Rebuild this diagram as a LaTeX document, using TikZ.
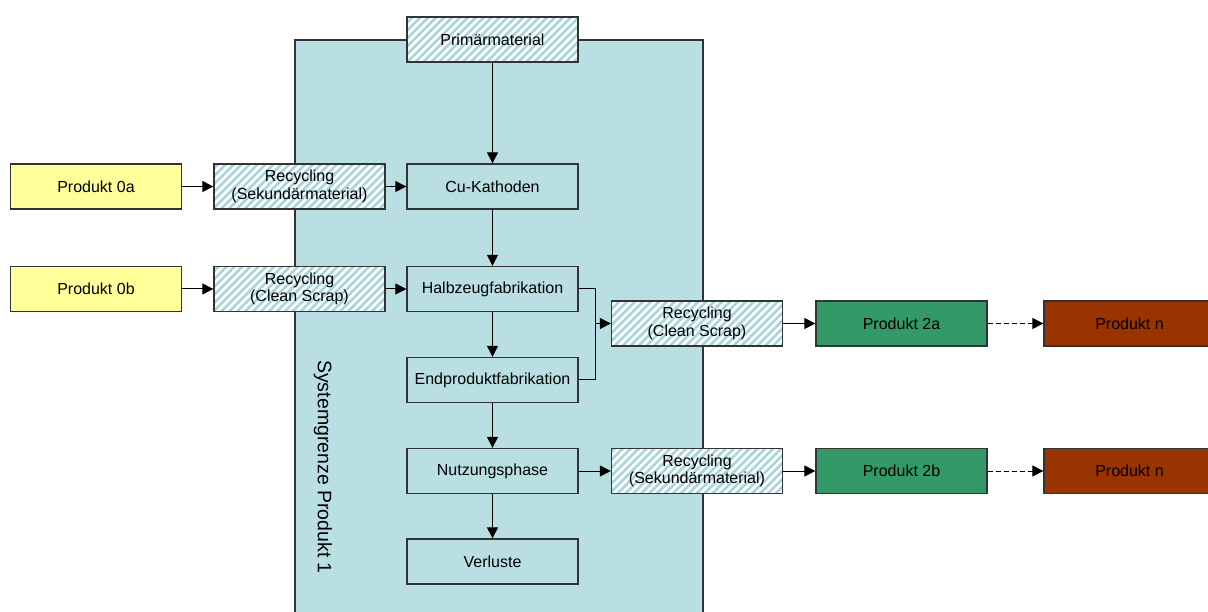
\documentclass[tikz,border=0pt]{standalone}
\usepackage{fontspec}
\setmainfont{Liberation Sans}
\usetikzlibrary{arrows.meta,patterns.meta}
\definecolor{sysfill}{HTML}{B9DFE2}
\definecolor{hatch}{HTML}{A6D5DA}
\definecolor{prodyellow}{HTML}{FFFF99}
\definecolor{prodgreen}{HTML}{339966}
\definecolor{prodbrown}{HTML}{993300}
\definecolor{edge}{HTML}{333333}
\tikzset{
  box/.style={draw=edge, line width=1.3pt, rectangle, minimum width=171pt, minimum height=45pt, inner sep=0pt, align=center, font=\fontsize{16}{17.5}\selectfont},
  proc/.style={box, fill=sysfill},
  recyc/.style={box, preaction={fill=white}, preaction={pattern={Lines[angle=45,distance=5.6pt,line width=2.6pt]}, pattern color=hatch}},
  yel/.style={box, fill=prodyellow},
  grn/.style={box, fill=prodgreen},
  brn/.style={box, fill=prodbrown},
  arr/.style={draw=black, line width=1pt, -{Triangle[length=11pt,width=11pt]}},
  dasharr/.style={arr, dash pattern=on 5pt off 3pt},
  lin/.style={draw=black, line width=1pt}
}
\begin{document}
\begin{tikzpicture}[x=1pt,y=-1pt]
\useasboundingbox (0,0) rectangle (1208,612);
\begin{scope}
\clip (0,0) rectangle (1208,612);
% system boundary
\draw[draw=edge, line width=1.3pt, fill=sysfill] (295,40) rectangle (703,630);
\node[rotate=-90, font=\fontsize{19.5}{21}\selectfont] (sysl) at (323,467) {Systemgrenze Produkt 1};
% main column
\node[recyc] (prim) at (492.5,39.5) {Primärmaterial};
\node[proc] (cu) at (492.5,186.5) {Cu-Kathoden};
\node[proc] (halb) at (492.5,289) {Halbzeugfabrikation};
\node[proc] (endp) at (492.5,380) {Endproduktfabrikation};
\node[proc] (nutz) at (492.5,471) {Nutzungsphase};
\node[proc] (verl) at (492.5,561.5) {Verluste};
% left side
\node[yel] (p0a) at (96,186.5) {Produkt 0a};
\node[yel] (p0b) at (96,289) {Produkt 0b};
\node[recyc] (rsl) at (299.5,186.5) {Recycling\\(Sekundärmaterial)};
\node[recyc] (rcl) at (299.5,289) {Recycling\\(Clean Scrap)};
% right side
\node[recyc] (rcr) at (697,323.5) {Recycling\\(Clean Scrap)};
\node[recyc] (rsr) at (697,471) {Recycling\\(Sekundärmaterial)};
\node[grn] (p2a) at (901.5,323.5) {Produkt 2a};
\node[grn] (p2b) at (901.5,471) {Produkt 2b};
\node[brn] (pna) at (1129.5,323.5) {Produkt n};
\node[brn] (pnb) at (1129.5,471) {Produkt n};
% connectors
\draw[arr] (prim) -- (cu);
\draw[arr] (cu) -- (halb);
\draw[arr] (halb) -- (endp);
\draw[arr] (endp) -- (nutz);
\draw[arr] (nutz) -- (verl);
\draw[arr] (p0a) -- (rsl);
\draw[arr] (rsl) -- (cu);
\draw[arr] (p0b) -- (rcl);
\draw[arr] (rcl) -- (halb);
\coordinate (m) at (595,323.5);
\draw[lin] (halb.east) -- (halb.east -| m) -- (endp.east -| m) -- (endp.east);
\draw[arr] (m) -- (rcr);
\draw[arr] (nutz) -- (rsr);
\draw[arr] (rcr) -- (p2a);
\draw[arr] (rsr) -- (p2b);
\draw[dasharr] (p2a) -- (pna);
\draw[dasharr] (p2b) -- (pnb);
\end{scope}
\end{tikzpicture}
\end{document}
